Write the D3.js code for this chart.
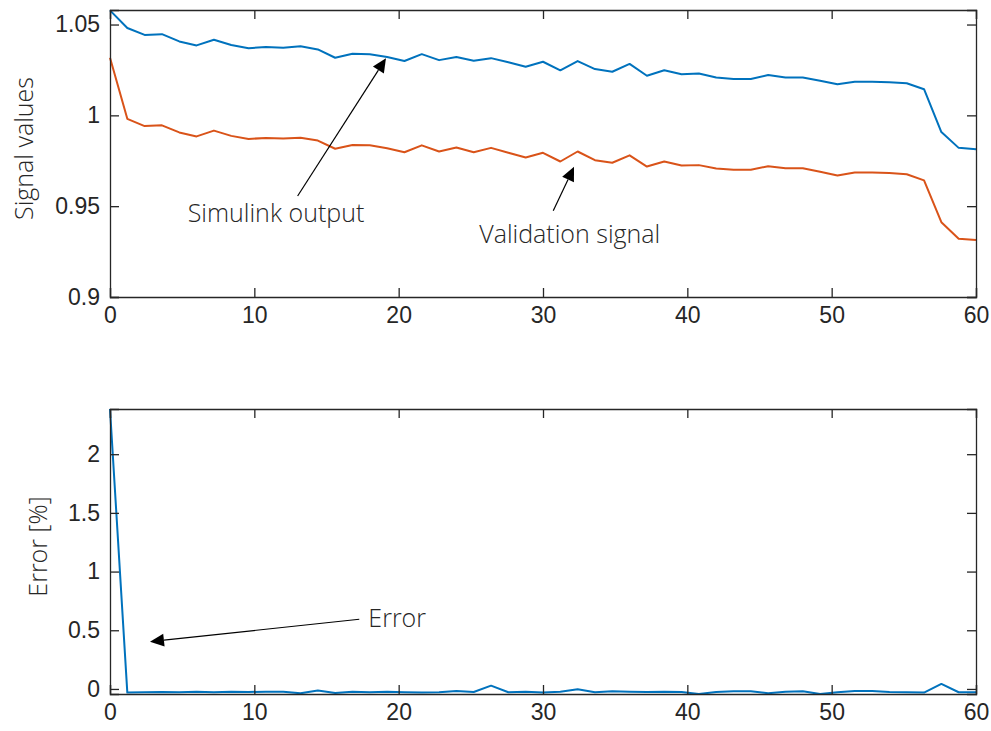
<!DOCTYPE html>
<html>
<head>
<meta charset="utf-8">
<script src="https://cdn.jsdelivr.net/npm/d3@7"></script>
<style>
  body { margin: 0; background: #fff; }
  svg { display: block; }
</style>
</head>
<body>
<svg id="chart" width="991" height="731"></svg>
<script>
// time axis [s]
var time = [0, 1.2, 2.4, 3.6, 4.8, 6, 7.2, 8.4, 9.6, 10.8, 12, 13.2, 14.4, 15.6, 16.8, 18, 19.2, 20.4,
  21.6, 22.8, 24, 25.2, 26.4, 27.6, 28.8, 30, 31.2, 32.4, 33.6, 34.8, 36, 37.2, 38.4, 39.6, 40.8, 42,
  43.2, 44.4, 45.6, 46.8, 48, 49.2, 50.4, 51.6, 52.8, 54, 55.2, 56.4, 57.6, 58.8, 60];

var simulink = [1.0578, 1.0481, 1.0443, 1.0447, 1.0407, 1.0385, 1.0416, 1.0387, 1.0370, 1.0376,
  1.0372, 1.0380, 1.0363, 1.0317, 1.0339, 1.0337, 1.0321, 1.0299, 1.0337, 1.0304,
  1.0321, 1.0301, 1.0315, 1.0292, 1.0268, 1.0295, 1.0248, 1.0299, 1.0255, 1.0240,
  1.0283, 1.0218, 1.0248, 1.0226, 1.0230, 1.0208, 1.0200, 1.0200, 1.0222, 1.0208,
  1.0208, 1.0191, 1.0171, 1.0185, 1.0185, 1.0182, 1.0177, 1.0144, 0.9908, 0.9821, 0.9813];

var validation = [1.0317, 0.9981, 0.9941, 0.9945, 0.9906, 0.9884, 0.9916, 0.9887, 0.9870, 0.9876,
  0.9872, 0.9877, 0.9861, 0.9816, 0.9837, 0.9835, 0.9819, 0.9797, 0.9835, 0.9801,
  0.9823, 0.9797, 0.9821, 0.9794, 0.9768, 0.9794, 0.9746, 0.9801, 0.9753, 0.9739,
  0.9780, 0.9718, 0.9746, 0.9724, 0.9726, 0.9708, 0.9700, 0.9700, 0.9720, 0.9709,
  0.9709, 0.9689, 0.9669, 0.9686, 0.9686, 0.9682, 0.9676, 0.9642, 0.9412, 0.9321, 0.9314];

var errorPct = [2.385, -0.031, -0.028, -0.026, -0.028, -0.023, -0.028, -0.023, -0.026, -0.023,
  -0.023, -0.037, -0.014, -0.034, -0.023, -0.028, -0.023, -0.028, -0.031, -0.028,
  -0.017, -0.026, 0.028, -0.028, -0.023, -0.031, -0.023, -0.003, -0.028, -0.020,
  -0.023, -0.026, -0.023, -0.026, -0.043, -0.026, -0.020, -0.020, -0.037, -0.023,
  -0.020, -0.043, -0.028, -0.017, -0.017, -0.026, -0.028, -0.031, 0.043, -0.028, -0.028];

var xTicks = [0, 10, 20, 30, 40, 50, 60];
var signalTicks = [0.9, 0.95, 1, 1.05];
var errorTicks = [0, 0.5, 1, 1.5, 2];

// annotations, in data units: [text, textX, textY, tailX, tailY, tipX, tipY]
var signalNotes = [
  ["Simulink output", 11.5, 0.9468, 13.0, 0.9556, 19.12, 1.0314],
  ["Validation signal", 31.85, 0.9352, 30.71, 0.9475, 32.15, 0.9717]
];
var errorNotes = [
  ["Error", 17.9, 0.616, 17.27, 0.594, 2.77, 0.403]
];

var svg = d3.select("#chart");
var ink = "#262626";
var tickFont = "'Liberation Sans', Arial, Helvetica, sans-serif";
var lightFont = "'Open Sans', sans-serif";

function panel(opts) {
  var x = d3.scaleLinear().domain([0, 60]).range([110, 976]);
  var y = d3.scaleLinear().domain(opts.yDomain).range([opts.bottom, opts.top]);
  var g = svg.append("g");
  var tickLen = 9;

  // series
  opts.series.forEach(function (s) {
    g.append("path")
      .datum(s.values)
      .attr("fill", "none")
      .attr("stroke", s.color)
      .attr("stroke-width", 2)
      .attr("stroke-linejoin", "round")
      .attr("d", d3.line().x((d, i) => x(time[i])).y(d => y(d)));
  });

  // axes, ticks inward, mirrored on the far side
  var fmt = d => d3.format("")(d);
  g.append("g").attr("transform", `translate(0,${opts.bottom})`)
    .call(d3.axisBottom(x).tickValues(xTicks).tickSize(-tickLen).tickPadding(10).tickFormat(fmt));
  g.append("g").attr("transform", `translate(0,${opts.top})`)
    .call(d3.axisTop(x).tickValues(xTicks).tickSize(-tickLen).tickFormat(""));
  g.append("g").attr("transform", "translate(110,0)")
    .call(d3.axisLeft(y).tickValues(opts.yTicks).tickSize(-tickLen).tickPadding(10).tickFormat(fmt));
  g.append("g").attr("transform", "translate(976,0)")
    .call(d3.axisRight(y).tickValues(opts.yTicks).tickSize(-tickLen).tickFormat(""));

  g.selectAll(".domain").attr("stroke", ink).attr("stroke-width", 1.3);
  g.selectAll(".tick line").attr("stroke", ink).attr("stroke-width", 1.3);
  g.selectAll(".tick text")
    .attr("fill", ink)
    .attr("font-family", tickFont)
    .attr("font-size", 23);

  // y label
  g.append("text")
    .attr("transform", `translate(${opts.labelX},${(opts.top + opts.bottom) / 2 - 5}) rotate(-90)`)
    .attr("text-anchor", "middle")
    .attr("dominant-baseline", "central")
    .attr("font-family", lightFont)
    .attr("font-weight", 300)
    .attr("font-size", 25)
    .attr("fill", ink)
    .text(opts.label);

  // annotations
  opts.notes.forEach(function (n) {
    var x0 = x(n[3]), y0 = y(n[4]), x1 = x(n[5]), y1 = y(n[6]);
    var ang = Math.atan2(y1 - y0, x1 - x0), hl = 14, hw = 6.5;
    var bx = x1 - hl * Math.cos(ang), by = y1 - hl * Math.sin(ang);
    g.append("line")
      .attr("x1", x0).attr("y1", y0).attr("x2", bx).attr("y2", by)
      .attr("stroke", "#000").attr("stroke-width", 1.2);
    g.append("path")
      .attr("d", `M${x1},${y1}L${bx - hw * Math.sin(ang)},${by + hw * Math.cos(ang)}L${bx + hw * Math.sin(ang)},${by - hw * Math.cos(ang)}Z`)
      .attr("fill", "#000");
    g.append("text")
      .attr("x", x(n[1])).attr("y", y(n[2]))
      .attr("text-anchor", n[0] == "Error" ? "start" : "middle")
      .attr("dominant-baseline", "central")
      .attr("font-family", lightFont)
      .attr("font-weight", 300)
      .attr("font-size", 25)
      .attr("fill", ink)
      .text(n[0]);
  });
}

panel({
  top: 10, bottom: 297, yDomain: [0.9, 1.058], yTicks: signalTicks,
  label: "Signal values", labelX: 23, notes: signalNotes,
  series: [{ values: simulink, color: "#0072BD" }, { values: validation, color: "#D95319" }]
});

panel({
  top: 409, bottom: 694, yDomain: [-0.043, 2.385], yTicks: errorTicks,
  label: "Error [%]", labelX: 37, notes: errorNotes,
  series: [{ values: errorPct, color: "#0072BD" }]
});
</script>
</body>
</html>
